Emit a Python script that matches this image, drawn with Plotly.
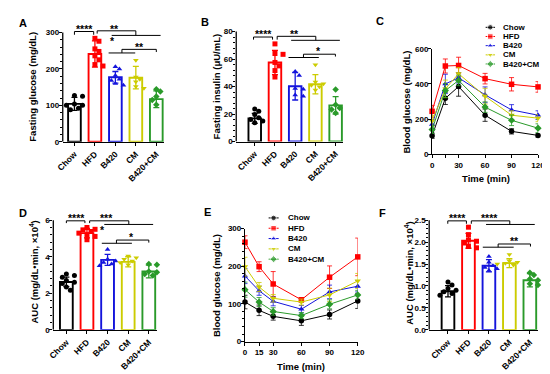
import numpy as np
import plotly.graph_objects as go

W, H = 550, 374
FONT = "Liberation Sans, Arial, Helvetica, sans-serif"

groups = ["Chow", "HFD", "B420", "CM", "B420+CM"]
colors = ["#000000", "#FF0000", "#1414DC", "#CCCC00", "#2A9A2A"]
symbols = ["circle", "square", "triangle-up", "triangle-down", "diamond"]

# ---------------- data ----------------
# A: fasting glucose (mg/dL)
glu_mean = [104, 241, 177, 176, 117]
glu_sd = [18, 36, 16, 31, 23]
glu_pts = [[127, 125, 104, 100, 98, 92, 88, 100],
           [284, 276, 255, 248, 236, 225, 212, 208],
           [206, 200, 182, 172, 160, 155, 168],
           [224, 178, 172, 165, 152, 147],
           [144, 138, 124, 115, 102, 97, 120]]
# B: fasting insulin (uU/mL)
ins_mean = [16.8, 57.5, 40.2, 41.7, 26.3]
ins_sd = [3.6, 8.8, 10.0, 7.0, 6.4]
ins_pts = [[23.7, 22.0, 19.6, 17.3, 14.9, 13.7, 16.0],
           [71.0, 64.0, 63.4, 57.5, 55.0, 51.6, 46.9],
           [50.9, 48.0, 38.0, 33.8, 33.0, 38.6],
           [55.9, 43.3, 42.0, 39.8, 37.4, 41.0],
           [37.9, 26.7, 24.4, 22.0, 20.8, 23.2]]
# D: AUC OGTT (x10^4)
aucg_mean = [2.62, 5.29, 3.83, 3.72, 3.19]
aucg_sd = [0.26, 0.26, 0.30, 0.28, 0.35]
aucg_pts = [[3.06, 2.97, 2.88, 2.70, 2.53, 2.35, 2.17, 2.60],
            [5.60, 5.50, 5.38, 5.29, 5.11, 4.93, 5.20, 5.47],
            [4.40, 3.77, 3.69, 3.51, 3.60, 3.86],
            [4.04, 3.86, 3.77, 3.69, 3.56, 3.95],
            [3.60, 3.56, 3.19, 3.06, 2.97, 3.15]]
# F: AUC ITT (x10^4)
auci_mean = [0.88, 2.03, 1.46, 1.52, 1.13]
auci_sd = [0.13, 0.17, 0.14, 0.10, 0.15]
auci_pts = [[1.09, 1.02, 0.94, 0.87, 0.83, 0.79, 0.90],
            [2.34, 2.17, 2.02, 1.91, 1.87, 1.98, 2.05],
            [1.67, 1.54, 1.46, 1.39, 1.35, 1.42],
            [1.72, 1.57, 1.52, 1.48, 1.54, 1.50],
            [1.30, 1.25, 1.13, 1.05, 1.02, 1.16]]

times = [0, 15, 30, 60, 90, 120]
# C: OGTT blood glucose
ogtt_mean = [[105, 318, 385, 222, 130, 107],
             [244, 502, 505, 430, 398, 383],
             [170, 400, 435, 338, 252, 222],
             [190, 372, 458, 330, 222, 205],
             [140, 362, 420, 268, 193, 148]]
ogtt_sd = [[15, 35, 55, 35, 15, 10],
           [34, 40, 47, 30, 38, 30],
           [25, 55, 30, 45, 30, 25],
           [30, 50, 35, 45, 25, 20],
           [22, 40, 30, 30, 30, 25]]
# E: ITT blood glucose
itt_mean = [[105, 83, 67, 55, 72, 108],
            [264, 199, 153, 111, 171, 225],
            [174, 135, 107, 86, 132, 147],
            [199, 145, 115, 105, 124, 161],
            [138, 105, 80, 69, 99, 124]]
itt_sd = [[18, 14, 10, 12, 12, 20],
          [17, 13, 33, 6, 30, 50],
          [20, 12, 12, 10, 18, 15],
          [25, 12, 10, 8, 18, 20],
          [20, 12, 10, 8, 12, 12]]

# significance brackets: (x0, x1, y, left drop, right drop); stars: (x, y, text)
sig_A = dict(lines=[(0, 0.94, 302.7, 293.8, 293.8), (1.11, 3.0, 304.6, 297.0, 292.0),
                    (1.82, 4.21, 292.0, None, None), (1.67, 2.97, 243.8, None, None),
                    (2.32, 4.0, 253.7, 243.8, 246.4)],
             stars=[(0.47, 310, "****"), (1.98, 310, "**"), (1.86, 276, "*"), (3.18, 261, "**")])
sig_B = dict(lines=[(-0.06, 0.88, 76.0, 74.1, 74.1), (1.11, 3.02, 76.5, 74.1, 73.6),
                    (1.80, 4.21, 73.6, None, None), (1.67, 3.17, 61.1, None, None),
                    (2.41, 3.99, 63.5, 61.1, 61.8)],
             stars=[(0.43, 78.5, "****"), (1.99, 78.5, "**"), (3.17, 65.5, "*")])
sig_D = dict(lines=[(0, 0.90, 5.964, 5.84, 5.84), (1.13, 3.03, 5.964, 5.84, 5.766),
                    (1.84, 4.21, 5.766, None, None), (1.72, 3.18, 4.736, None, None),
                    (2.43, 4.0, 4.912, 4.736, 4.773)],
             stars=[(0.47, 6.13, "****"), (1.95, 6.13, "***"), (1.73, 5.46, "*"), (3.18, 5.10, "*")])
sig_F = dict(lines=[(-0.01, 0.90, 2.484, 2.418, 2.418), (1.14, 3.02, 2.484, 2.418, 2.402),
                    (1.86, 4.24, 2.402, None, None), (1.70, 3.21, 1.884, None, None),
                    (2.45, 4.03, 1.957, 1.884, 1.899)],
             stars=[(0.48, 2.557, "****"), (2.05, 2.557, "****"), (3.24, 2.032, "**")])

fig = go.Figure()
shapes, annos = [], []
layout = {}


def dom_x(l, r):
    return [l / W, r / W]


def dom_y(top, bottom):
    return [1 - bottom / H, 1 - top / H]


def swarm(vals, px_unit, px_cat, d=4.6):
    vals = np.asarray(vals, float)
    order = np.argsort(-vals)
    placed, off = [], np.zeros(len(vals))
    for i in order:
        yp = vals[i] * px_unit
        for k in [0, 1, -1, 2, -2, 3, -3]:
            xp = k * d * 0.9
            if all(np.hypot(xp - a, yp - b) >= d for a, b in placed):
                break
        placed.append((xp, yp))
        off[i] = xp / px_cat
    return off


ytick_font = dict(family=FONT, size=8, color="black", weight="bold")
xtick_font = dict(family=FONT, size=8.5, color="black", weight="bold")


def bar_panel(n, means, sds, pts, xl, c0, step, xr, zero_px, top_val, top_px, dom_top,
              tickvals, ticktext, minor_vals, sig):
    xa, ya = ("x" if n == 1 else f"x{n}"), ("y" if n == 1 else f"y{n}")
    xk, yk = ("xaxis" if n == 1 else f"xaxis{n}"), ("yaxis" if n == 1 else f"yaxis{n}")
    scale = (zero_px - top_px) / top_val
    layout[xk] = dict(domain=dom_x(xl, xr), range=[(xl - c0) / step, (xr - c0) / step],
                      anchor=ya, showline=True, linewidth=1.3, linecolor="black",
                      ticks="outside", ticklen=3, tickwidth=1.2, tickcolor="black",
                      tickvals=list(range(5)), ticktext=groups, tickangle=-45,
                      tickfont=xtick_font, showgrid=False, zeroline=False)
    layout[yk] = dict(domain=dom_y(dom_top, zero_px), range=[0, (zero_px - dom_top) / scale],
                      anchor=xa, showline=False, ticks="outside", ticklen=3, tickwidth=1.2,
                      tickcolor="black", tickvals=tickvals, ticktext=ticktext,
                      tickfont=ytick_font, showgrid=False, zeroline=False,
                      ticklabelstandoff=-2,
                      minor=dict(tickvals=minor_vals, ticks="outside", ticklen=1.8,
                                 tickwidth=1, tickcolor="black"))
    shapes.append(dict(type="line", xref=f"{xa} domain", yref=ya, x0=0, x1=0, y0=0,
                       y1=tickvals[-1], line=dict(color="black", width=1.3)))
    for i in range(5):
        fig.add_trace(go.Bar(x=[i], y=[means[i]], width=0.62, xaxis=xa, yaxis=ya,
                             marker=dict(color="rgba(255,255,255,0)",
                                         line=dict(color=colors[i], width=1.9)),
                             error_y=dict(type="data", array=[sds[i]], color=colors[i],
                                          thickness=1.3, width=3)))
        off = swarm(pts[i], scale, step)
        fig.add_trace(go.Scatter(x=i + off, y=pts[i], mode="markers", xaxis=xa, yaxis=ya,
                                 cliponaxis=False,
                                 marker=dict(symbol=symbols[i], size=5, color=colors[i],
                                             line=dict(width=0))))
    for (x0, x1, y, dl, dr) in sig["lines"]:
        path = f"M{x0},{y} L{x1},{y}"
        if dl is not None:
            path = f"M{x0},{dl} L{x0},{y} L{x1},{y} L{x1},{dr}"
        shapes.append(dict(type="path", xref=xa, yref=ya, path=path,
                           line=dict(color="black", width=1)))
    for (x, y, t) in sig["stars"]:
        annos.append(dict(x=x, y=y, xref=xa, yref=ya, text=t, showarrow=False,
                          font=dict(family=FONT, size=10.5, color="black", weight="bold"),
                          xanchor="center", yanchor="middle"))


bar_panel(1, glu_mean, glu_sd, glu_pts, 49, 61, 21, 153, 133, 300, 21, 8,
          [0, 100, 200, 300], ["0", "100", "200", "300"],
          [v for v in range(0, 301, 20) if v % 100], sig_A)
bar_panel(2, ins_mean, ins_sd, ins_pts, 227, 246, 20.75, 336.7, 132.7, 80, 20, 8,
          [0, 20, 40, 60, 80], ["0", "20", "40", "60", "80"],
          [v for v in range(0, 81, 4) if v % 20], sig_B)
bar_panel(4, aucg_mean, aucg_sd, aucg_pts, 39.3, 52.7, 21.15, 145.7, 325.7, 6, 213.3, 203,
          [0, 2, 4, 6], ["0", "2", "4", "6"],
          [v / 10 for v in range(0, 61, 4) if v % 20], sig_D)
bar_panel(6, auci_mean, auci_sd, auci_pts, 425, 444.3, 21, 536.7, 325.7, 2.5, 213.3, 203,
          [0, 0.5, 1.0, 1.5, 2.0, 2.5], ["0.0", "0.5", "1.0", "1.5", "2.0", "2.5"],
          [v / 10 for v in range(0, 26) if v % 5], sig_F)


def line_panel(n, means, sds, xl, xr, zero_px, top_px, top_val, yticks, minor_y,
               xticks, minor_x):
    xa, ya, xk, yk = f"x{n}", f"y{n}", f"xaxis{n}", f"yaxis{n}"
    layout[xk] = dict(domain=dom_x(xl, xr), range=[0, 120], anchor=ya, showline=True,
                      linewidth=1.3, linecolor="black", ticks="outside", ticklen=3,
                      tickwidth=1.2, tickcolor="black", tickvals=xticks,
                      tickfont=ytick_font, showgrid=False, zeroline=False,
                      minor=dict(tickvals=minor_x, ticks="outside", ticklen=3,
                                 tickwidth=1.2, tickcolor="black"))
    layout[yk] = dict(domain=dom_y(top_px, zero_px), range=[0, top_val], anchor=xa,
                      showline=True, linewidth=1.3, linecolor="black", ticks="outside",
                      ticklen=3, tickwidth=1.2, tickcolor="black", tickvals=yticks,
                      tickfont=ytick_font, showgrid=False, zeroline=False,
                      ticklabelstandoff=-2,
                      minor=dict(tickvals=minor_y, ticks="outside", ticklen=1.8,
                                 tickwidth=1, tickcolor="black"))
    for i in range(5):
        fig.add_trace(go.Scatter(x=times, y=means[i], mode="lines+markers", xaxis=xa, yaxis=ya,
                                 cliponaxis=False, line=dict(color=colors[i], width=1),
                                 marker=dict(symbol=symbols[i], size=5.5, color=colors[i]),
                                 error_y=dict(type="data", array=sds[i], color=colors[i],
                                              thickness=0.8, width=2.5)))


line_panel(3, ogtt_mean, ogtt_sd, 428, 536.7, 145.7, 37.7, 600, [0, 200, 400, 600], [],
           [0, 30, 60, 90, 120], [15])
line_panel(5, itt_mean, itt_sd, 236, 351.7, 337.7, 222, 300, [0, 100, 200, 300],
           [v for v in range(0, 301, 20) if v % 100], times, [])


def legend_block(n, xl, xr, row0, row4, text_x):
    xa, ya, xk, yk = f"x{n}", f"y{n}", f"xaxis{n}", f"yaxis{n}"
    s = (row4 - row0) / 4
    bare = dict(showline=False, showticklabels=False, ticks="", showgrid=False,
                zeroline=False, fixedrange=True)
    layout[xk] = dict(domain=dom_x(xl, xr), range=[0, 1], anchor=ya, **bare)
    layout[yk] = dict(domain=dom_y(row0 - s / 2, row4 + s / 2), range=[4.5, -0.5],
                      anchor=xa, **bare)
    for i in range(5):
        fig.add_trace(go.Scatter(x=[0, 0.5, 1], y=[i, i, i], mode="lines+markers",
                                 xaxis=xa, yaxis=ya, cliponaxis=False, hoverinfo="skip",
                                 line=dict(color=colors[i], width=1),
                                 marker=dict(symbol=symbols[i], size=[0, 5.5, 0],
                                             color=colors[i])))
        annos.append(dict(x=text_x / W, y=i, xref="paper", yref=ya, text=groups[i],
                          showarrow=False, xanchor="left", yanchor="middle",
                          font=dict(family=FONT, size=8, color="black", weight="bold")))


legend_block(7, 482.7, 492.7, 15.7, 53.3, 499)
legend_block(8, 260, 270.7, 211, 253.3, 278)


def txt(x, y, t, size, angle=0):
    annos.append(dict(x=x / W, y=1 - y / H, xref="paper", yref="paper", text=t,
                      showarrow=False, textangle=angle, xanchor="center", yanchor="middle",
                      font=dict(family=FONT, size=size, color="black", weight="bold")))


for (x, y, t) in [(8, 11, "A"), (195, 10, "B"), (375, 9, "C"),
                  (8, 206, "D"), (198, 205, "E"), (377, 206, "F")]:
    txt(x, y, t, 11)
auc_title = "AUC (mg/dL\u2022min, \u00d710<sup>4</sup>)"
txt(18, 77, "Fasting glucose (mg/dL)", 9.5, -90)
txt(206.5, 76, "Fasting insulin (\u03bcU/mL)", 9.5, -90)
txt(402, 92, "Blood glucose (mg/dL)", 9.5, -90)
txt(19.5, 267, auc_title, 9.5, -90)
txt(207, 280, "Blood glucose (mg/dL)", 9.5, -90)
txt(403.5, 268, auc_title, 9.5, -90)
txt(483, 171, "Time (min)", 9.5)
txt(293, 363, "Time (min)", 9.5)

fig.update_layout(width=W, height=H, margin=dict(l=0, r=0, t=0, b=0),
                  paper_bgcolor="white", plot_bgcolor="white", showlegend=False,
                  barmode="overlay", font=dict(family=FONT, color="black"),
                  shapes=shapes, annotations=annos, **layout)
fig.write_html("out.html")
